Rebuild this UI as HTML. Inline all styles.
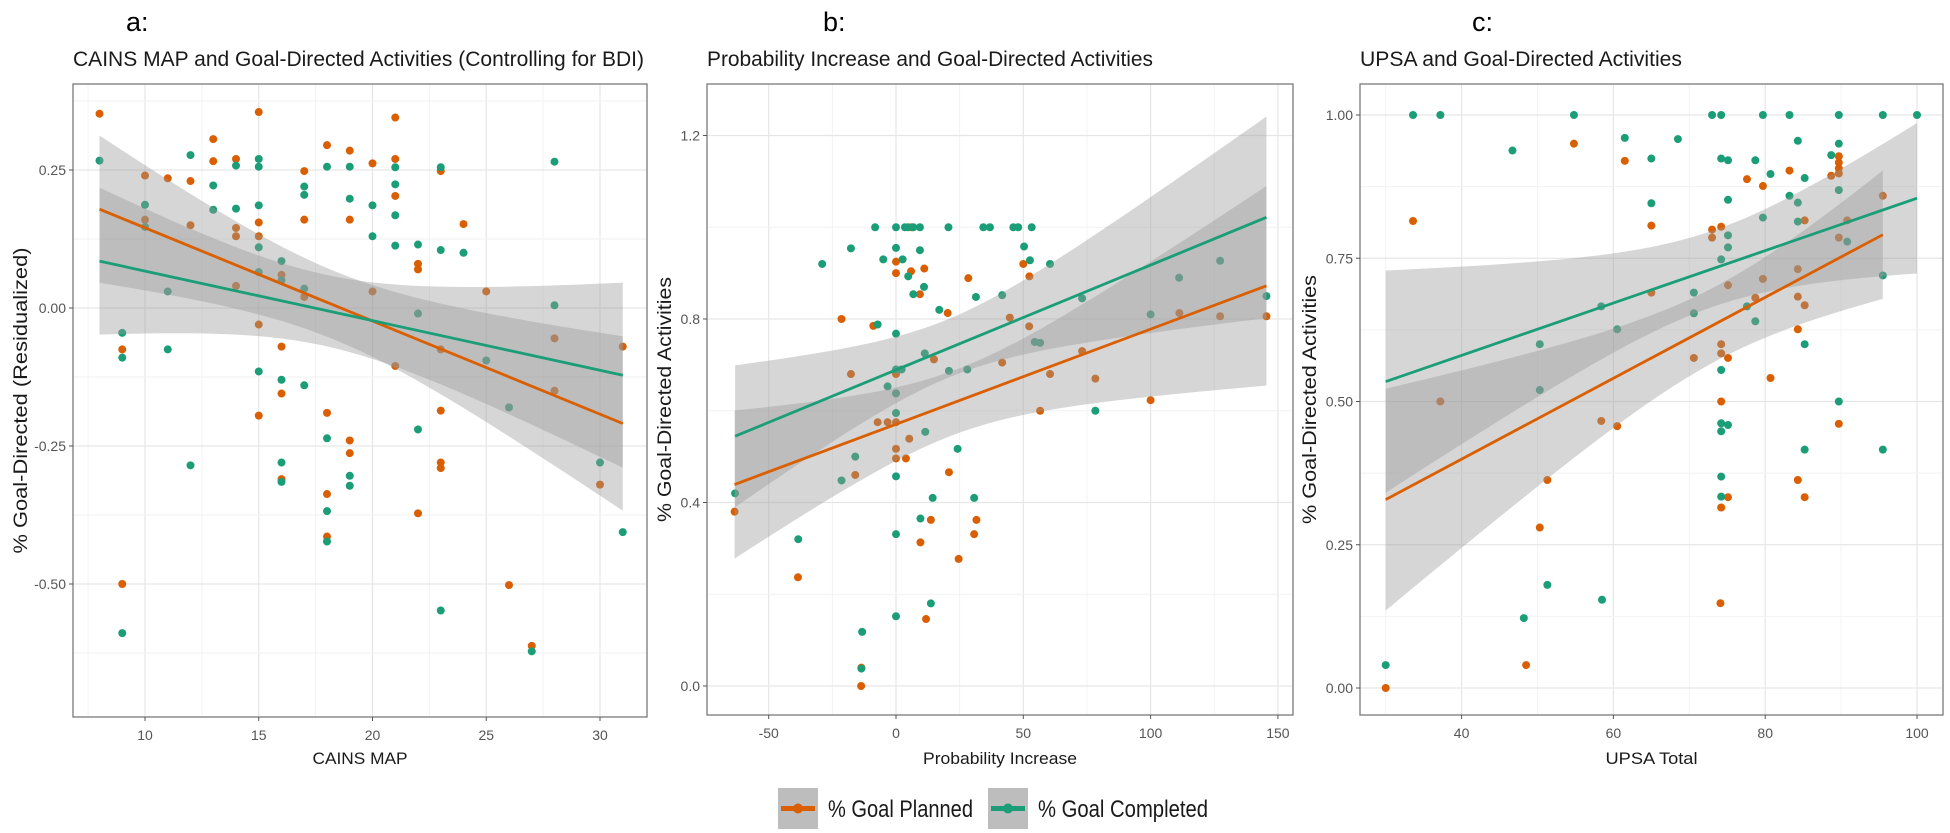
<!DOCTYPE html>
<html><head><meta charset="utf-8"><style>
html,body{margin:0;padding:0;background:#fff;}
svg{display:block;font-family:"Liberation Sans",Arial,sans-serif;}
</style></head><body>
<svg id="fig" width="1950" height="833" viewBox="0 0 1950 833" xmlns="http://www.w3.org/2000/svg">
<rect x="0" y="0" width="1950" height="833" fill="#fff"/>
<g id="legend">
 <g>
  <rect x="778" y="788" width="40" height="41" fill="#bdbdbd"/>
  <line x1="781" y1="808.5" x2="815" y2="808.5" stroke="#d95f02" stroke-width="5"/>
  <circle cx="798" cy="808.5" r="5" fill="#d95f02"/>
  <text x="828" y="817" font-size="24" fill="#1a1a1a" textLength="145" lengthAdjust="spacingAndGlyphs">% Goal Planned</text>
 </g>
 <g>
  <rect x="988" y="788" width="40" height="41" fill="#bdbdbd"/>
  <line x1="991" y1="808.5" x2="1025" y2="808.5" stroke="#1b9e77" stroke-width="5"/>
  <circle cx="1008" cy="808.5" r="5" fill="#1b9e77"/>
  <text x="1038" y="817" font-size="24" fill="#1a1a1a" textLength="170" lengthAdjust="spacingAndGlyphs">% Goal Completed</text>
 </g>
</g>
</svg>
<script>
// ---- Panel a data: CAINS MAP vs residualized % goal-directed ----
const aPlannedX = [8,9,9,10,10,11,12,12,13,13,14,14,14,14,15,15,15,15,15,16,16,16,16,17,17,17,18,18,18,18,19,19,19,19,20,20,21,21,21,21,22,22,22,23,23,23,23,23,24,25,26,27,28,28,30,31];
const aPlannedY = [0.352,-0.075,-0.50,0.24,0.16,0.235,0.23,0.15,0.306,0.266,0.27,0.145,0.13,0.04,0.355,0.155,0.13,-0.03,-0.195,0.06,-0.07,-0.155,-0.31,0.248,0.16,0.02,0.295,-0.19,-0.337,-0.414,0.285,0.16,-0.24,-0.263,0.262,0.03,0.345,0.27,0.203,-0.105,0.08,0.07,-0.372,0.248,-0.075,-0.186,-0.28,-0.29,0.152,0.03,-0.502,-0.612,-0.055,-0.15,-0.32,-0.07];
const aCompletedX = [8,9,9,9,10,10,11,11,12,12,13,13,14,14,15,15,15,15,15,15,16,16,16,16,16,17,17,17,17,18,18,18,18,19,19,19,19,20,20,21,21,21,21,22,22,22,23,23,23,24,25,26,27,28,28,30,31];
const aCompletedY = [0.267,-0.045,-0.09,-0.589,0.187,0.147,0.03,-0.075,0.277,-0.285,0.222,0.178,0.258,0.18,0.27,0.256,0.186,0.11,0.065,-0.115,0.085,0.05,-0.13,-0.28,-0.315,0.22,0.205,0.035,-0.14,0.256,-0.236,-0.368,-0.423,0.256,0.198,-0.304,-0.322,0.186,0.13,0.255,0.224,0.168,0.113,0.115,-0.01,-0.22,0.255,0.105,-0.548,0.10,-0.095,-0.18,-0.622,0.265,0.005,-0.28,-0.406];
const aXTicks = [10,15,20,25,30];
const aYTicks = [-0.50,-0.25,0.00,0.25];
const aYTickLabels = ["-0.50","-0.25","0.00","0.25"];

// ---- Panel b data: Probability Increase ----
const bPlannedX = [-63.4,-38.5,-21.4,-17.7,-16,-13.7,-13.6,11.8,9.6,13.7,31.6,30.7,24.6,20.8,6.2,0,0,5.9,11.1,9.4,28.4,50,52.4,20.3,44.7,52.3,-8.9,0,-7.2,-3.3,0,5.2,0,0,3.9,14.9,41.7,73.1,60.5,78.3,56.6,111.3,127.3,145.5,100];
const bPlannedY = [0.38,0.237,0.80,0.68,0.46,0.0,0.04,0.146,0.313,0.362,0.362,0.331,0.277,0.466,1.0,0.925,0.9,0.904,0.91,0.854,0.889,0.92,0.893,0.813,0.803,0.784,0.785,0.68,0.575,0.575,0.575,0.539,0.517,0.496,0.496,0.712,0.705,0.73,0.68,0.67,0.6,0.813,0.806,0.806,0.623];
const bCompletedX = [-63.2,-38.4,-29,-17.7,-16,-21.4,-13.3,-13.6,0,13.7,0,9.6,14.4,30.7,-8.2,0,3.5,4.8,6.8,9.4,20.6,34.3,36.9,46.1,48,53.3,0,9.4,-5,2.6,50.3,52.6,4.8,11,6.8,31.4,17,41.7,54.5,-7.2,0,0,2.2,-3.3,0,0,11.5,0,24.2,11.3,20.8,28,60.5,73.1,56.6,78.3,111.2,127.3,145.5,100];
const bCompletedY = [0.42,0.32,0.92,0.954,0.50,0.448,0.118,0.038,0.152,0.18,0.331,0.365,0.41,0.41,1,1,1,1,1,1,1,1,1,1,1,1,0.955,0.95,0.93,0.93,0.958,0.928,0.893,0.87,0.854,0.848,0.82,0.852,0.75,0.788,0.768,0.69,0.69,0.653,0.638,0.595,0.554,0.457,0.517,0.725,0.687,0.69,0.92,0.845,0.748,0.60,0.89,0.927,0.85,0.81];
const bXTicks = [-50,0,50,100,150];
const bYTicks = [0.0,0.4,0.8,1.2];
const bYTickLabels = ["0.0","0.4","0.8","1.2"];

// ---- Panel c data: UPSA Total ----
const cPlannedX = [30,33.6,37.2,48.5,54.8,51.3,50.3,74.1,61.5,65,65,58.4,60.5,70.6,73,73,74.2,75.1,74.2,74.2,75.1,74.2,75.1,74.2,78.7,77.6,79.7,79.7,80.7,83.2,84.3,84.3,84.3,84.3,85.2,85.2,85.2,88.7,89.7,89.7,89.7,89.7,89.7,90.8,89.7,95.5];
const cPlannedY = [0,0.815,0.5,0.04,0.95,0.363,0.28,0.148,0.92,0.807,0.69,0.466,0.457,0.576,0.8,0.786,0.805,0.703,0.6,0.584,0.576,0.5,0.333,0.315,0.681,0.888,0.876,0.714,0.541,0.903,0.731,0.683,0.626,0.363,0.816,0.668,0.333,0.894,0.928,0.917,0.907,0.898,0.786,0.816,0.461,0.859];
const cCompletedX = [30,33.6,37.2,46.7,54.8,50.3,50.3,51.3,58.5,48.2,61.5,65,65,68.5,58.4,60.5,70.6,70.6,73,74.2,74.2,75.1,75.1,75.1,75.1,74.2,74.2,74.2,75.1,74.2,74.2,74.2,77.6,78.7,78.7,79.7,79.7,80.7,83.2,83.2,84.3,84.3,84.3,85.2,85.2,85.2,88.7,89.7,89.7,89.7,90.8,89.7,95.5,95.5,95.5,100];
const cCompletedY = [0.04,1,1,0.938,1,0.6,0.52,0.18,0.154,0.122,0.96,0.924,0.846,0.958,0.666,0.626,0.69,0.654,1,1,0.924,0.921,0.852,0.79,0.769,0.748,0.555,0.462,0.459,0.448,0.369,0.334,0.666,0.64,0.921,1,0.821,0.897,1,0.859,0.955,0.847,0.814,0.89,0.6,0.416,0.93,1,0.95,0.869,0.779,0.5,1,0.72,0.416,1];
const cXTicks = [40,60,80,100];
const cYTicks = [0.00,0.25,0.50,0.75,1.00];
const cYTickLabels = ["0.00","0.25","0.50","0.75","1.00"];

const NS = "http://www.w3.org/2000/svg";
const svg = document.getElementById("fig");
const legend = document.getElementById("legend");
const ORANGE = "#d95f02", GREEN = "#1b9e77";

function mk(tag, attrs, parent) {
  const e = document.createElementNS(NS, tag);
  for (const k in attrs) e.setAttribute(k, attrs[k]);
  (parent || svg).appendChild(e);
  return e;
}

function fit(xs, ys) {
  const n = xs.length;
  let mx = 0, my = 0;
  for (let i = 0; i < n; i++) { mx += xs[i]; my += ys[i]; }
  mx /= n; my /= n;
  let sxx = 0, sxy = 0;
  for (let i = 0; i < n; i++) { sxx += (xs[i]-mx)*(xs[i]-mx); sxy += (xs[i]-mx)*(ys[i]-my); }
  const b = sxy / sxx, a = my - b*mx;
  let sse = 0;
  for (let i = 0; i < n; i++) { const r = ys[i] - (a + b*xs[i]); sse += r*r; }
  const s = Math.sqrt(sse / (n - 2));
  return {a, b, mx, sxx, s, n, xmin: Math.min(...xs), xmax: Math.max(...xs)};
}

function panel(cfg) {
  const g = mk("g", {}, svg);
  
  
  const L = cfg.left, R = cfg.right, T = cfg.top, B = cfg.bottom;
  const sx = v => L + (v - cfg.xmin) / (cfg.xmax - cfg.xmin) * (R - L);
  const sy = v => B - (v - cfg.ymin) / (cfg.ymax - cfg.ymin) * (B - T);

  // grid: minor then major
  const xs = cfg.xTicks, ys = cfg.yTicks;
  const dx = xs[1] - xs[0], dy = ys[1] - ys[0];
  const grid = mk("g", {}, g);
  
  
  for (let v = xs[0] - dx*2; v <= xs[xs.length-1] + dx*2; v += dx/2) {
    const px = sx(v); if (px <= L || px >= R) continue;
    const isMaj = xs.some(t => Math.abs(t - v) < 1e-9);
    mk("line", {x1: px, x2: px, y1: T, y2: B, stroke: isMaj ? "#e6e6e6" : "#f2f2f2", "stroke-width": isMaj ? 1.2 : 0.9}, grid);
  }
  for (let v = ys[0] - dy*2; v <= ys[ys.length-1] + dy*2 + 1e-9; v += dy/2) {
    const py = sy(v); if (py <= T || py >= B) continue;
    const isMaj = ys.some(t => Math.abs(t - v) < 1e-9);
    mk("line", {x1: L, x2: R, y1: py, y2: py, stroke: isMaj ? "#e6e6e6" : "#f2f2f2", "stroke-width": isMaj ? 1.2 : 0.9}, grid);
  }

  // points
  const series = [
    {x: cfg.planX, y: cfg.planY, c: ORANGE, nm: "planned"},
    {x: cfg.compX, y: cfg.compY, c: GREEN, nm: "completed"}
  ];
  series.forEach(s => {
    const pg = mk("g", {}, g);
    
    
    for (let i = 0; i < s.x.length; i++) {
      const c = mk("circle", {cx: sx(s.x[i]), cy: sy(s.y[i]), r: 4, fill: s.c}, pg);
      
      
    }
  });

  // ribbons and lines
  const fits = series.map(s => fit(s.x, s.y));
  fits.forEach((f, k) => {
    const N = 40, up = [], lo = [];
    for (let i = 0; i <= N; i++) {
      const x = f.xmin + (f.xmax - f.xmin) * i / N;
      const yh = f.a + f.b*x;
      const se = f.s * Math.sqrt(1/f.n + (x - f.mx)*(x - f.mx)/f.sxx);
      up.push(sx(x) + "," + sy(yh + 1.98*se));
      lo.push(sx(x) + "," + sy(yh - 1.98*se));
    }
    const rb = mk("polygon", {points: up.concat(lo.reverse()).join(" "), fill: "#999999", "fill-opacity": 0.4}, g);
    
    
  });
  fits.forEach((f, k) => {
    const ln = mk("line", {x1: sx(f.xmin), y1: sy(f.a + f.b*f.xmin), x2: sx(f.xmax), y2: sy(f.a + f.b*f.xmax), stroke: series[k].c, "stroke-width": 2.8}, g);
    
    
  });

  // border
  const bd = mk("rect", {x: L, y: T, width: R - L, height: B - T, fill: "none", stroke: "#7a7a7a", "stroke-width": 1.3}, g);
  
  

  // ticks
  const xax = mk("g", {}, g);
  
  
  xs.forEach(v => {
    mk("line", {x1: sx(v), x2: sx(v), y1: B, y2: B + 4, stroke: "#555", "stroke-width": 1}, xax);
    const t = mk("text", {x: sx(v), y: B + 23, "font-size": 14, fill: "#555", "text-anchor": "middle"}, xax);
    
    
    t.textContent = String(v);
  });
  const yax = mk("g", {}, g);
  
  
  ys.forEach((v, i) => {
    mk("line", {x1: L - 4, x2: L, y1: sy(v), y2: sy(v), stroke: "#555", "stroke-width": 1}, yax);
    const t = mk("text", {x: L - 7, y: sy(v) + 5, "font-size": 14, fill: "#555", "text-anchor": "end"}, yax);
    
    
    t.textContent = cfg.yLabels[i];
  });

  // titles
  const xt = mk("text", {x: (L + R)/2, y: 764, "font-size": 17, fill: "#1a1a1a", "text-anchor": "middle", textLength: cfg.xTitleW, lengthAdjust: "spacingAndGlyphs"}, g);
  
  
  xt.textContent = cfg.xTitle;
  const ycx = cfg.yTitleX, ycy = (T + B)/2;
  const yt = mk("text", {x: ycx, y: ycy, "font-size": 19, fill: "#1a1a1a", "text-anchor": "middle", "dominant-baseline": "middle", transform: `rotate(-90 ${ycx} ${ycy})`, textLength: cfg.yTitleW, lengthAdjust: "spacingAndGlyphs"}, g);
  
  
  yt.textContent = cfg.yTitle;
  const tt = mk("text", {x: L, y: 66, "font-size": 21, fill: "#1a1a1a", textLength: cfg.titleW, lengthAdjust: "spacingAndGlyphs"}, g);
  
  
  tt.textContent = cfg.title;
  const lt = mk("text", {x: cfg.letterX, y: 31, "font-size": 27, fill: "#000"}, g);
  
  
  lt.textContent = cfg.letter;
}

panel({name: "panel-a-cains-map", left: 73, right: 647, top: 84, bottom: 717,
  xmin: 10 - 72/22.75, xmax: 10 + 502/22.75, ymin: -(717-308)/552, ymax: (308-84)/552,
  xTicks: aXTicks, yTicks: aYTicks, yLabels: aYTickLabels,
  planX: aPlannedX, planY: aPlannedY, compX: aCompletedX, compY: aCompletedY,
  xTitle: "CAINS MAP", xTitleW: 95, yTitle: "% Goal-Directed (Residualized)", yTitleX: 22, yTitleW: 306,
  title: "CAINS MAP and Goal-Directed Activities (Controlling for BDI)", titleW: 571, letter: "a:", letterX: 126});

panel({name: "panel-b-probability-increase", left: 707, right: 1293, top: 84, bottom: 715,
  xmin: -(896-707)/2.546, xmax: (1293-896)/2.546, ymin: -(715-686)/458.75, ymax: (686-84)/458.75,
  xTicks: bXTicks, yTicks: bYTicks, yLabels: bYTickLabels,
  planX: bPlannedX, planY: bPlannedY, compX: bCompletedX, compY: bCompletedY,
  xTitle: "Probability Increase", xTitleW: 154, yTitle: "% Goal-Directed Activities", yTitleX: 666, yTitleW: 245,
  title: "Probability Increase and Goal-Directed Activities", titleW: 446, letter: "b:", letterX: 823});

panel({name: "panel-c-upsa", left: 1360, right: 1943, top: 84, bottom: 715,
  xmin: 100 - (1917-1360)/7.59, xmax: 100 + (1943-1917)/7.59, ymin: -(715-688)/573, ymax: (688-84)/573,
  xTicks: cXTicks, yTicks: cYTicks, yLabels: cYTickLabels,
  planX: cPlannedX, planY: cPlannedY, compX: cCompletedX, compY: cCompletedY,
  xTitle: "UPSA Total", xTitleW: 92, yTitle: "% Goal-Directed Activities", yTitleX: 1311, yTitleW: 249,
  title: "UPSA and Goal-Directed Activities", titleW: 322, letter: "c:", letterX: 1472});

svg.appendChild(legend);
</script>
</body></html>
